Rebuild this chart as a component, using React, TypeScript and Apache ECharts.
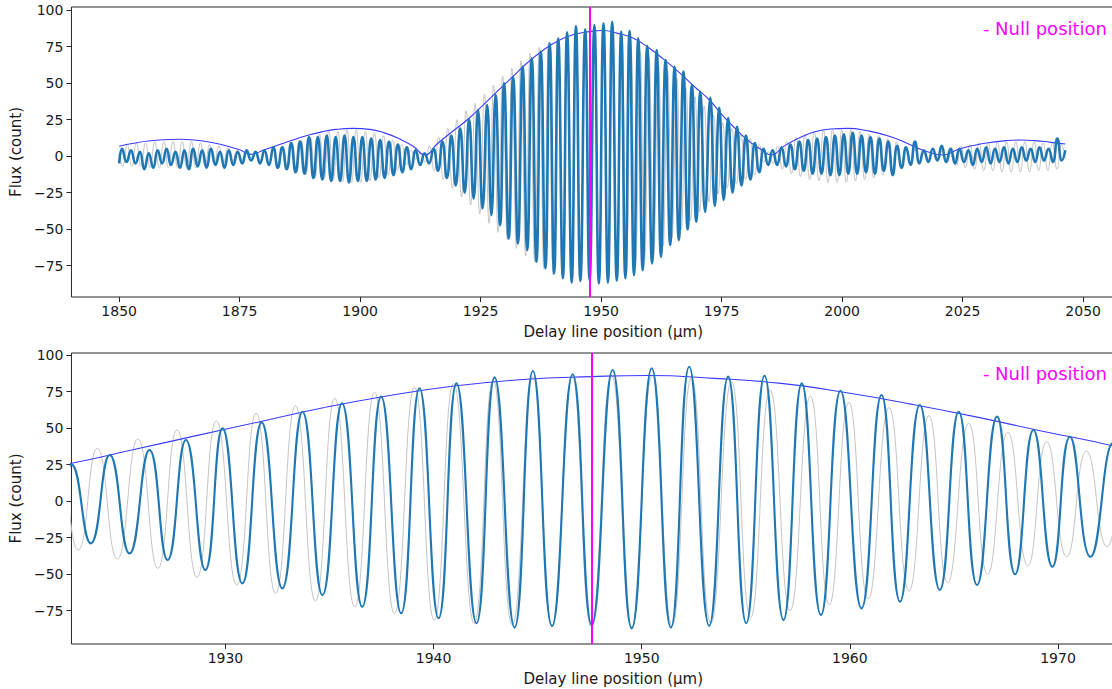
import React, { useEffect, useRef } from "react";
import * as echarts from "echarts";

// ---- data ----
const nullPosition = 1947.6;

const xTicksTop = [1850, 1875, 1900, 1925, 1950, 1975, 2000, 2025, 2050];
const xTicksBottom = [1930, 1940, 1950, 1960, 1970];
const yTicks = [-75, -50, -25, 0, 25, 50, 75, 100];

// fringe envelope (thin blue)
const envelope: [number, number][] = [
  [1850.0, 6.8], [1853.0, 8.8], [1856.0, 10.3], [1859.0, 11.2], [1862.5, 11.5], [1866.0, 10.9],
  [1869.0, 9.5], [1872.0, 7.3], [1875.0, 4.3], [1877.3, 1.2], [1880.0, 4.2], [1883.0, 7.6],
  [1886.0, 11.0], [1889.0, 14.1], [1892.0, 16.6], [1895.0, 18.3], [1898.5, 19.0], [1902.0, 18.3],
  [1905.0, 15.9], [1908.0, 12.0], [1911.0, 6.8], [1913.4, 0.8], [1916.0, 8.5], [1919.0, 16.5],
  [1922.6, 25.9], [1925.6, 35.3], [1928.6, 44.8], [1931.6, 54.2], [1934.7, 63.9], [1937.9, 72.3],
  [1941.1, 79.0], [1944.3, 83.2], [1947.6, 85.2], [1950.3, 86.0], [1953.5, 84.0], [1956.7, 80.6],
  [1960.0, 73.8], [1963.0, 66.2], [1966.0, 57.8], [1969.2, 48.0], [1972.6, 37.9], [1975.0, 28.5],
  [1977.1, 21.3], [1980.0, 12.0], [1983.3, 4.2], [1985.3, 0.8], [1988.0, 7.0], [1991.0, 12.3],
  [1994.3, 16.7], [1997.5, 18.6], [2001.2, 19.0], [2005.0, 17.5], [2010.1, 13.3], [2014.0, 8.0],
  [2017.7, 3.0], [2021.0, 0.8], [2024.0, 4.5], [2027.5, 7.5], [2031.0, 9.5], [2034.0, 10.6],
  [2037.0, 11.0], [2040.0, 10.6], [2043.0, 9.6], [2046.3, 8.3],
];

// model fringes (thin grey): successive extrema
const modelFringes: [number, number][] = [
  [1850.0, 2], [1850.72, -7], [1851.67, 8], [1852.62, -7], [1853.57, 9], [1854.52, -7], [1855.47, 9],
  [1856.42, -8], [1857.37, 10], [1858.32, -8], [1859.27, 10], [1860.22, -8], [1861.17, 10], [1862.12, -8],
  [1863.07, 10], [1864.02, -8], [1864.97, 10], [1865.92, -8], [1866.87, 9], [1867.82, -7], [1868.77, 8],
  [1869.72, -6], [1870.67, 7], [1871.62, -5], [1872.57, 6], [1873.52, -4], [1874.47, 4], [1875.42, -3],
  [1876.37, 2], [1877.32, -1], [1878.27, 1], [1879.22, -3], [1880.17, 3], [1881.12, -5], [1882.07, 5],
  [1883.02, -7], [1883.97, 7], [1884.92, -9], [1885.87, 9], [1886.82, -11], [1887.77, 11], [1888.72, -13],
  [1889.67, 13], [1890.62, -15], [1891.57, 15], [1892.52, -16], [1893.47, 17], [1894.42, -17], [1895.37, 17],
  [1896.32, -18], [1897.27, 18], [1898.22, -18], [1899.17, 18], [1900.12, -18], [1901.07, 17], [1902.02, -17],
  [1902.97, 16], [1903.92, -15], [1904.87, 14], [1905.82, -13], [1906.77, 11], [1907.72, -10], [1908.67, 8],
  [1909.62, -6], [1910.57, 4], [1911.52, -2], [1912.47, 2], [1913.42, -4], [1914.37, 7], [1915.32, -10],
  [1916.27, 13], [1917.22, -16], [1918.17, 19], [1919.12, -22], [1920.07, 25], [1921.02, -28], [1921.97, 31],
  [1922.92, -33.5], [1923.84, 36.1], [1924.8, -39.6], [1925.79, 42.5], [1926.75, -46.0], [1927.67, 48.7],
  [1928.63, -52.2], [1929.56, 54.8], [1930.54, -57.4], [1931.47, 60.1], [1932.41, -63.1], [1933.36, 65.3],
  [1934.32, -68.4], [1935.25, 70.4], [1936.21, -72.3], [1937.16, 74.5], [1938.12, -76.8], [1939.08, 77.9],
  [1940.03, -81.4], [1940.96, 80.6], [1941.95, -83.6], [1942.86, 82.9], [1943.78, -84.8], [1944.77, 85.2],
  [1945.69, -85.5], [1946.65, 85.2], [1947.57, -85.9], [1948.55, 86.0], [1949.52, -86.0], [1950.5, 86.0],
  [1951.46, -85.5], [1952.39, 84.7], [1953.32, -83.6], [1954.31, 81.7], [1955.23, -79.8], [1956.17, 76.0],
  [1957.13, -75.0], [1958.1, 71.9], [1959.01, -70.9], [1959.95, 67.6], [1960.88, -67.0], [1961.88, 64.0],
  [1962.84, -61.5], [1963.8, 58.5], [1964.7, -55.8], [1965.71, 53.2], [1966.62, -50.1], [1967.59, 47.1],
  [1968.55, -44.2], [1969.46, 40.7], [1970.42, -38.1], [1971.37, 34.3], [1972.36, -31.2],
  [1973.31, 28], [1974.26, -26], [1975.21, 23], [1976.16, -22], [1977.11, 19], [1978.06, -19],
  [1979.01, 15], [1979.96, -16], [1980.91, 12], [1981.86, -13], [1982.81, 8], [1983.76, -4],
  [1984.71, 3], [1985.66, -5], [1986.61, 7], [1987.56, -9], [1988.51, 10], [1989.46, -12], [1990.41, 13],
  [1991.36, -14], [1992.31, 15], [1993.26, -16], [1994.21, 17], [1995.16, -17], [1996.11, 18], [1997.06, -18],
  [1998.01, 18], [1998.96, -18], [1999.91, 18], [2000.86, -18], [2001.81, 18], [2002.76, -17], [2003.71, 17],
  [2004.66, -16], [2005.61, 15], [2006.56, -15], [2007.51, 14], [2008.46, -13], [2009.41, 12], [2010.36, -11],
  [2011.31, 10], [2012.26, -9], [2013.21, 7], [2014.16, -6], [2015.11, 5], [2016.06, -4], [2017.01, 2],
  [2017.96, -2], [2018.91, 2], [2019.86, -3], [2020.81, 4], [2021.76, -5], [2022.71, 6], [2023.66, -7],
  [2024.61, 7], [2025.56, -8], [2026.51, 8], [2027.46, -9], [2028.41, 9], [2029.36, -10], [2030.31, 9],
  [2031.26, -10], [2032.21, 10], [2033.16, -11], [2034.11, 10], [2035.06, -11], [2036.01, 10], [2036.96, -11],
  [2037.91, 10], [2038.86, -11], [2039.81, 10], [2040.76, -10], [2041.71, 9], [2042.66, -10], [2043.61, 9],
  [2044.56, -9], [2045.51, 8], [2046.3, -2],
];

// measured fringes (thick blue): successive extrema
const measuredFringes: [number, number][] = [
  [1850.0, -5], [1850.61, 5], [1851.53, -4], [1852.45, 4], [1853.38, -5], [1854.3, 3], [1855.22, -9],
  [1856.14, 2], [1857.07, -8], [1857.99, 4], [1858.91, -5], [1859.84, 5], [1860.76, -6], [1861.68, 3],
  [1862.61, -8], [1863.53, 4], [1864.45, -9], [1865.37, 5], [1866.3, -7], [1867.22, 4], [1868.14, -8],
  [1869.07, 5], [1869.99, -6], [1870.91, 3], [1871.84, -8], [1872.76, 4], [1873.68, -6], [1874.6, 3],
  [1875.53, -5], [1876.45, 4], [1877.37, -3], [1878.3, 3], [1879.22, -5], [1880.14, 4], [1881.07, -6],
  [1881.99, 6], [1882.91, -8], [1883.83, 6], [1884.76, -9], [1885.68, 9], [1886.6, -11], [1887.53, 10],
  [1888.45, -12], [1889.37, 13], [1890.3, -15], [1891.22, 13], [1892.14, -16], [1893.06, 14], [1893.99, -17],
  [1894.91, 13], [1895.83, -17], [1896.76, 14], [1897.68, -18], [1898.6, 13], [1899.53, -17], [1900.45, 13],
  [1901.37, -17], [1902.29, 12], [1903.22, -16], [1904.14, 11], [1905.06, -15], [1905.99, 10], [1906.91, -13],
  [1907.83, 8], [1908.76, -11], [1909.68, 6], [1910.6, -9], [1911.52, 4], [1912.45, -6], [1913.37, 2],
  [1914.29, -5], [1915.22, 5], [1916.14, -10], [1917.06, 10], [1917.99, -15], [1918.91, 14], [1919.83, -20],
  [1920.75, 19], [1921.68, -25], [1922.6, 25],
  [1923.53, -28.9], [1924.44, 31.6], [1925.39, -35.8], [1926.35, 35.0], [1927.22, -40.3], [1928.1, 41.8],
  [1929.03, -47.2], [1929.86, 49.8], [1930.81, -56.3], [1931.74, 53.9], [1932.73, -59.7], [1933.7, 61.2],
  [1934.66, -64.3], [1935.6, 66.9], [1936.57, -72.3], [1937.48, 71.5], [1938.44, -76.8], [1939.32, 77.2],
  [1940.24, -80.2], [1941.1, 80.6], [1942.06, -83.6], [1942.93, 84.7], [1943.89, -86.6], [1944.77, 89.0],
  [1945.69, -85.5], [1946.68, 86.8], [1947.6, -84.8], [1948.6, 89.7], [1949.52, -87.1], [1950.48, 90.9],
  [1951.4, -86.6], [1952.28, 92.0], [1953.24, -85.3], [1954.15, 85.2], [1955.02, -83.6], [1955.9, 85.8],
  [1956.81, -81.4], [1957.69, 80.6], [1958.61, -78.0], [1959.55, 75.5], [1960.56, -73.4], [1961.52, 72.6],
  [1962.41, -68.8], [1963.36, 65.8], [1964.32, -60.8], [1965.23, 61.2], [1966.11, -57.4], [1967.07, 57.8],
  [1967.94, -50.1], [1968.82, 48.7], [1969.73, -44.9], [1970.57, 44.1], [1971.56, -38.1], [1972.65, 40],
  [1973.57, -34], [1974.49, 33], [1975.42, -30], [1976.34, 26], [1977.26, -25], [1978.19, 20], [1979.11, -20],
  [1980.03, 14], [1980.96, -16], [1981.88, 9], [1982.8, -11], [1983.72, 5], [1984.65, -6], [1985.57, 4],
  [1986.49, -6], [1987.42, 6], [1988.34, -7], [1989.26, 8], [1990.18, -9], [1991.11, 10], [1992.03, -10],
  [1992.95, 11], [1993.88, -12], [1994.8, 12], [1995.72, -12], [1996.64, 13], [1997.57, -13], [1998.49, 14],
  [1999.41, -13], [2000.34, 15], [2001.26, -12], [2002.18, 16], [2003.11, -12], [2004.03, 14], [2004.95, -11],
  [2005.87, 13], [2006.8, -12], [2007.72, 12], [2008.64, -10], [2009.57, 10], [2010.49, -13], [2011.41, 7],
  [2012.33, -8], [2013.26, 6], [2014.18, -6], [2015.1, 10], [2016.03, -5], [2016.95, 4], [2017.87, -4],
  [2018.8, 5], [2019.72, -3], [2020.64, 7], [2021.56, -4], [2022.49, 5], [2023.41, -5], [2024.33, 5],
  [2025.26, -4], [2026.18, 4], [2027.1, -6], [2028.03, 5], [2028.95, -4], [2029.87, 6], [2030.79, -5],
  [2031.72, 5], [2032.64, -4], [2033.56, 6], [2034.49, -5], [2035.41, 5], [2036.33, -4], [2037.26, 6],
  [2038.18, -3], [2039.1, 5], [2040.03, -4], [2040.95, 6], [2041.87, -3], [2042.8, 5], [2043.72, -4],
  [2044.64, 12], [2045.57, -3], [2046.3, 4],
];

// ---- styling ----
const FONT = "DejaVu Sans";
const INK = "#1a1a1a";
const fmtNum = (v: number) => (v < 0 ? "\u2212" + String(-v) : String(v));

function xAxisCfg(gridIndex: number, min: number, max: number, ticks: number[]) {
  return {
    type: "value",
    gridIndex,
    min,
    max,
    name: "Delay line position (\u03bcm)",
    nameLocation: "middle",
    nameGap: 27,
    nameTextStyle: { fontFamily: FONT, fontSize: 15, color: INK },
    axisLine: { show: false, onZero: false },
    axisTick: { show: true, length: 5, lineStyle: { color: "#262626", width: 1 }, customValues: ticks },
    axisLabel: { show: true, margin: 7, fontFamily: FONT, fontSize: 14, color: INK, customValues: ticks, formatter: (v: number) => fmtNum(v) },
    splitLine: { show: false },
  };
}

function yAxisCfg(gridIndex: number, min: number, max: number) {
  return {
    type: "value",
    gridIndex,
    min,
    max,
    name: "Flux (count)",
    nameLocation: "middle",
    nameRotate: 90,
    nameGap: 44,
    nameTextStyle: { fontFamily: FONT, fontSize: 15, color: INK },
    axisLine: { show: false, onZero: false },
    axisTick: { show: true, length: 5, lineStyle: { color: "#262626", width: 1 }, customValues: yTicks },
    axisLabel: { show: true, margin: 8, fontFamily: FONT, fontSize: 14, color: INK, customValues: yTicks, formatter: (v: number) => fmtNum(v) },
    splitLine: { show: false },
  };
}

function panelSeries(idx: number, blueWidth: number) {
  return [
    {
      type: "line",
      xAxisIndex: idx,
      yAxisIndex: idx,
      data: modelFringes,
      showSymbol: false,
      smooth: 0.5,
      lineStyle: { color: "#c4c4c4", width: 1 },
      z: 2,
      silent: true,
    },
    {
      type: "line",
      xAxisIndex: idx,
      yAxisIndex: idx,
      data: envelope,
      showSymbol: false,
      smooth: 0.5,
      lineStyle: { color: "#3b3bff", width: 1.1 },
      z: 3,
      silent: true,
    },
    {
      type: "line",
      xAxisIndex: idx,
      yAxisIndex: idx,
      data: measuredFringes,
      showSymbol: false,
      smooth: 0.5,
      lineStyle: { color: "#1f77b4", width: blueWidth },
      z: 4,
      silent: true,
      markLine: {
        silent: true,
        symbol: ["none", "none"],
        label: { show: false },
        lineStyle: { color: "#ff00ff", width: 2, type: "solid" },
        data: [{ xAxis: nullPosition }],
      },
    },
  ];
}

const option = {
  animation: false,
  backgroundColor: "#ffffff",
  textStyle: { fontFamily: FONT },
  grid: [
    { left: 67, top: 7, width: 1088, height: 290, show: true, borderColor: "#262626", borderWidth: 1, backgroundColor: "transparent" },
    { left: 67, top: 353, width: 1088, height: 291, show: true, borderColor: "#262626", borderWidth: 1, backgroundColor: "transparent" },
  ],
  xAxis: [xAxisCfg(0, 1840.1, 2064.9, xTicksTop), xAxisCfg(1, 1922.6, 1974.66, xTicksBottom)],
  yAxis: [yAxisCfg(0, -96.4, 102.05), yAxisCfg(1, -97.8, 101.37)],
  series: [...panelSeries(0, 2.6), ...panelSeries(1, 2.1)],
  graphic: [
    {
      type: "text",
      x: 1107,
      y: 28,
      z: 100,
      style: { text: "- Null position", fill: "#ff00ff", fontFamily: FONT, fontSize: 18, align: "right", verticalAlign: "middle" },
    },
    {
      type: "text",
      x: 1107,
      y: 373,
      z: 100,
      style: { text: "- Null position", fill: "#ff00ff", fontFamily: FONT, fontSize: 18, align: "right", verticalAlign: "middle" },
    },
  ],
};

export default function App() {
  const ref = useRef<HTMLDivElement>(null);
  useEffect(() => {
    if (!ref.current) return;
    const chart = echarts.init(ref.current, null, { renderer: "svg" });
    chart.setOption(option as any);
    return () => chart.dispose();
  }, []);
  return (
    <div style={{ position: "fixed", left: 0, top: 0, width: 1112, height: 689, overflow: "hidden", background: "#fff" }}>
      <div ref={ref} style={{ width: 1160, height: 689 }} />
    </div>
  );
}
